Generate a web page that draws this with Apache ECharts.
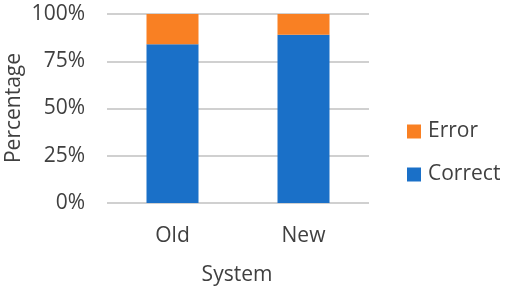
<!DOCTYPE html>
<html><head><meta charset="utf-8">
<script src="https://cdn.jsdelivr.net/npm/echarts@6/dist/echarts.min.js"></script>
<style>html,body{margin:0;padding:0;background:#fff}#c{width:505px;height:289px}</style>
</head><body><div id="c"></div>
<script>
const categories = ['Old', 'New'];
const correct = [84, 89];
const error = [16, 11];
const yTicks = [0, 25, 50, 75, 100];
const xTitle = 'System';
const yTitle = 'Percentage';

const font = '"Open Sans", "Liberation Sans", sans-serif';
const txt = '#404040';
const fs = 21;
const chart = echarts.init(document.getElementById('c'), null, {renderer: 'canvas'});
chart.setOption({
  animation: false,
  grid: {left: 107, right: 136, top: 14, bottom: 86, containLabel: false, outerBoundsMode: 'none'},
  legend: {
    orient: 'vertical', left: 402, top: 116, itemWidth: 14, itemHeight: 14, itemGap: 22,
    data: ['Error', 'Correct'], icon: 'rect',
    textStyle: {fontFamily: font, fontSize: fs, color: txt, padding: [0, 0, 0, 2]}
  },
  graphic: [
    {type: 'text', x: 14, y: 108, rotation: Math.PI / 2,
     style: {text: yTitle, font: fs + 'px ' + font, fill: txt, align: 'center', verticalAlign: 'middle'}},
    {type: 'text', x: 237, y: 275,
     style: {text: xTitle, font: fs + 'px ' + font, fill: txt, align: 'center', verticalAlign: 'middle'}}
  ],
  xAxis: {
    type: 'category', data: categories,
    axisLine: {show: false}, axisTick: {show: false},
    axisLabel: {fontFamily: font, fontSize: fs, color: txt, margin: 23}
  },
  yAxis: {
    type: 'value', min: 0, max: 100, interval: 25,
    axisLabel: {fontFamily: font, fontSize: fs, color: txt, margin: 22,
      formatter: v => yTicks.includes(v) ? v + '%' : ''},
    splitLine: {lineStyle: {color: '#d0d0d0', width: 2}}
  },
  series: [
    {name: 'Correct', type: 'bar', stack: 's', data: correct, barWidth: 52, itemStyle: {color: '#1A70C8'}},
    {name: 'Error', type: 'bar', stack: 's', data: error, barWidth: 52, itemStyle: {color: '#F98023'}}
  ]
});
</script></body></html>
